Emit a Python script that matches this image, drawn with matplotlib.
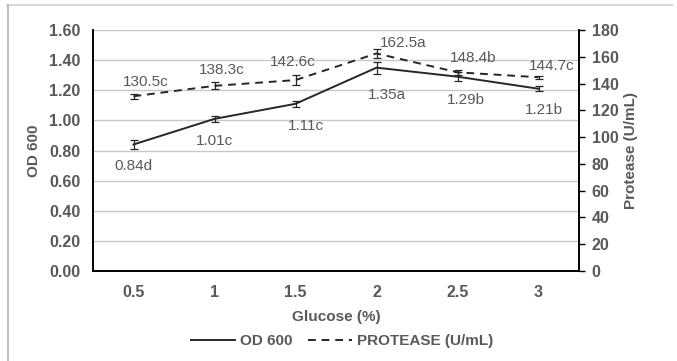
import matplotlib
matplotlib.use("Agg")
import matplotlib.pyplot as plt
from matplotlib.lines import Line2D

plt.rcParams['font.family'] = ['Liberation Sans', 'DejaVu Sans']

glucose = ["0.5", "1", "1.5", "2", "2.5", "3"]
od600 = [0.84, 1.01, 1.11, 1.35, 1.29, 1.21]
od600_err = [0.03, 0.02, 0.02, 0.04, 0.03, 0.015]
od600_labels = ["0.84d", "1.01c", "1.11c", "1.35a", "1.29b", "1.21b"]
protease = [130.5, 138.3, 142.6, 162.5, 148.4, 144.7]
protease_err = [2.0, 2.5, 3.5, 3.5, 2.0, 1.0]
protease_labels = ["130.5c", "138.3c", "142.6c", "162.5a", "148.4b", "144.7c"]

gray = '#595959'
fig = plt.figure(figsize=(6.77, 3.61), dpi=100)
ax = fig.add_axes([93/677, 1 - 271/361, (579-93)/677, (271-30)/361])
ax2 = ax.twinx()

x = list(range(len(glucose)))
ax.errorbar(x, od600, yerr=od600_err, color='#262626', lw=1.4, capsize=3,
            elinewidth=0.9, capthick=0.9, zorder=3)
ax2.errorbar(x, protease, yerr=protease_err, color='#262626', lw=1.4, ls=(0, (4, 3)),
             capsize=3, elinewidth=0.9, capthick=0.9, zorder=3)

od_off = [(0, -22), (0, -22), (10, -22), (10, -27), (8, -23), (5, -21)]
pr_off = [(12, 14), (7, 16), (-3, 18), (27, 10), (16, 14), (13, 11)]
for i in x:
    ax.annotate(od600_labels[i], (x[i], od600[i]), xytext=od_off[i], textcoords='offset pixels',
                ha='center', va='center', fontsize=11, color=gray)
    ax2.annotate(protease_labels[i], (x[i], protease[i]), xytext=pr_off[i], textcoords='offset pixels',
                 ha='center', va='center', fontsize=11, color=gray)

ax.set_xlim(-0.5, 5.5)
ax.set_ylim(0, 1.6)
ax.set_yticks([i * 0.2 for i in range(9)])
ax.set_yticklabels([f"{i*0.2:.2f}" for i in range(9)])
ax2.set_ylim(0, 180)
ax2.set_yticks(range(0, 181, 20))
ax.set_xticks(x)
ax.set_xticklabels(glucose)

ax.grid(axis='y', color='#c8c8c8', lw=1.0)
ax.set_axisbelow(True)
for a in (ax, ax2):
    a.spines['top'].set_visible(False)
    for s in ('left', 'bottom', 'right'):
        a.spines[s].set_color('black')
        a.spines[s].set_linewidth(1.2)
ax.tick_params(axis='y', length=0, pad=9, labelsize=11.5, labelcolor=gray)
ax.tick_params(axis='x', length=0, pad=10, labelsize=11.5, labelcolor=gray)
ax2.tick_params(axis='y', length=4, width=1, direction='out', pad=5, labelsize=11.5, labelcolor=gray)
for t in ax.get_xticklabels() + ax.get_yticklabels() + ax2.get_yticklabels():
    t.set_fontweight('bold')

ax.set_ylabel("OD 600", fontsize=11, fontweight='bold', color=gray, labelpad=6)
ax2.set_ylabel("Protease (U/mL)", fontsize=11, fontweight='bold', color=gray, labelpad=4)
ax.set_xlabel("Glucose (%)", fontsize=11, fontweight='bold', color=gray, labelpad=7)

handles = [Line2D([], [], color='#262626', lw=1.4),
           Line2D([], [], color='#262626', lw=1.4, ls=(0, (4, 3)))]
leg = fig.legend(handles, ["OD 600", "PROTEASE (U/mL)"], loc='center', bbox_to_anchor=(342/677, 1 - 341/361),
                 ncol=2, frameon=False, handlelength=2.9, columnspacing=1.0, handletextpad=0.3,
                 prop={'weight': 'bold', 'size': 11})
for t in leg.get_texts():
    t.set_color(gray)

fig.add_artist(Line2D([7/677, 672/677], [1 - 5/361, 1 - 5/361], color='#d0d0d0', lw=1.2))
fig.add_artist(Line2D([7.5/677, 7.5/677], [0, 1 - 5/361], color='#c0c0c0', lw=1.5))

fig.savefig("out.png", dpi=100)
